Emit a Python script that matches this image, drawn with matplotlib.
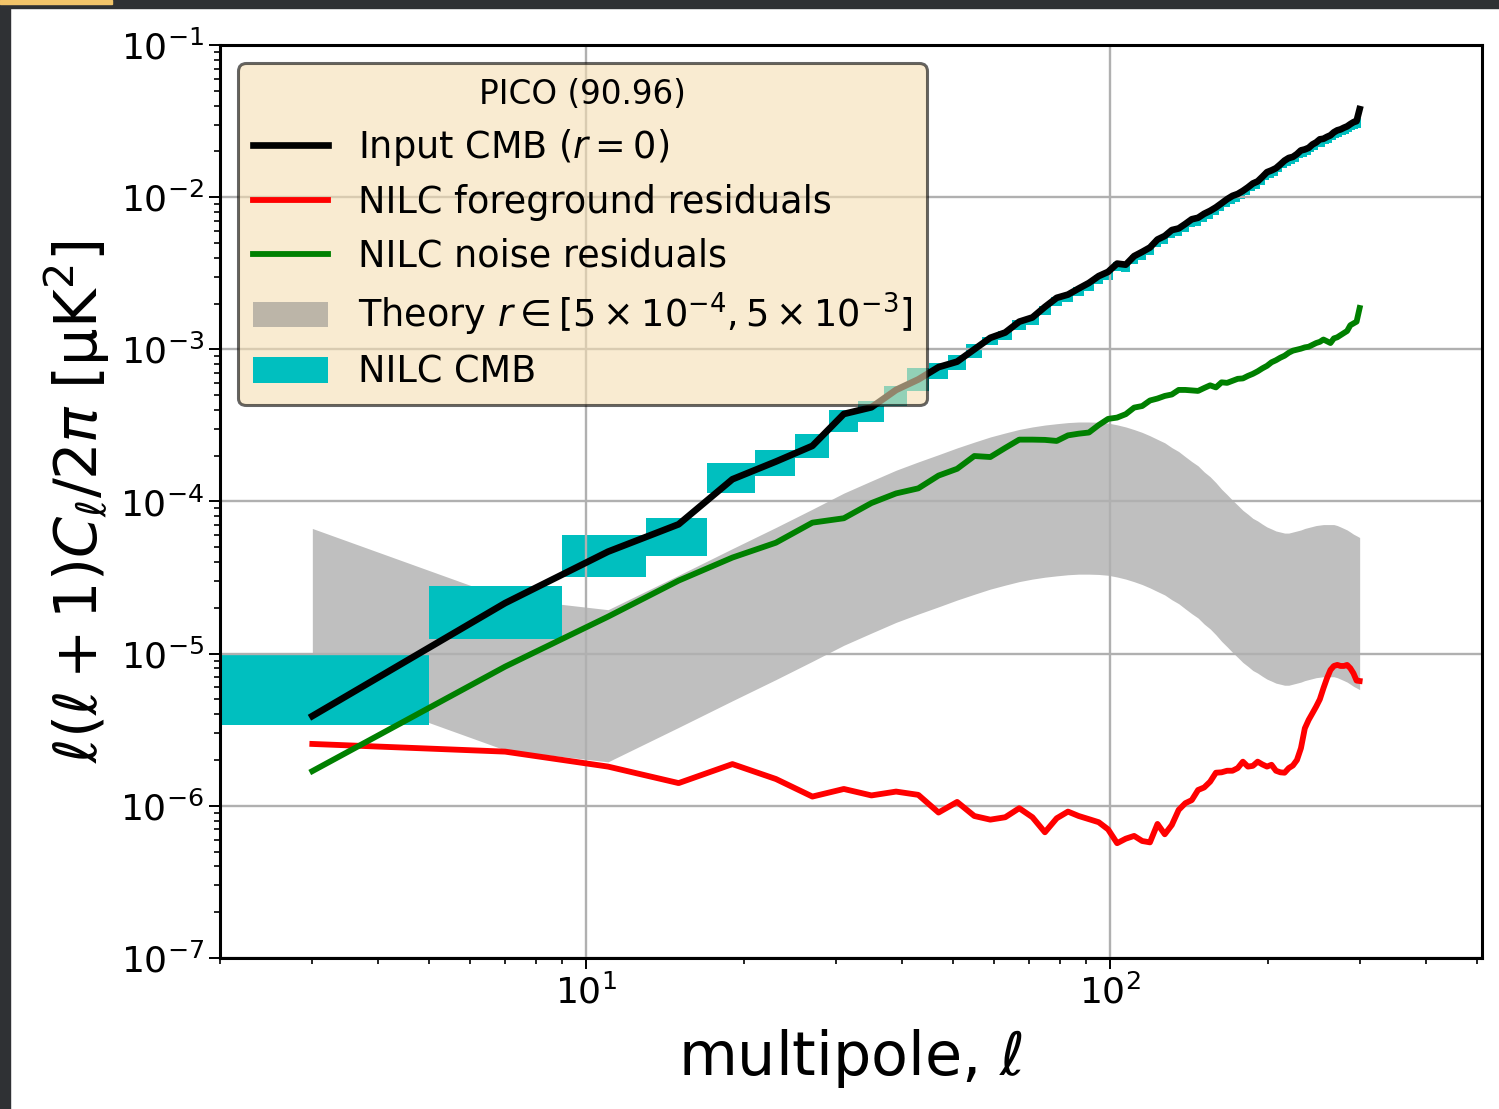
import numpy as np
import matplotlib
matplotlib.use('Agg')
import matplotlib.pyplot as plt
from matplotlib.patches import Rectangle

# Binned multipoles: bins of width 4 starting at ell = 1, plotted at their centres
ell = np.arange(3, 300, 4)
bin_lo = ell - 2
bin_hi = ell + 2

# Input lensed-CMB BB power, r = 0  [uK^2]
input_cmb = [
    3.89e-6, 2.15e-5, 4.68e-5, 7.08e-5, 1.40e-4, 1.83e-4, 2.32e-4, 3.76e-4, 4.16e-4, 5.41e-4,
    6.34e-4, 7.64e-4, 8.30e-4, 1.00e-3, 1.19e-3, 1.29e-3, 1.52e-3, 1.62e-3, 1.90e-3, 2.18e-3,
    2.29e-3, 2.51e-3, 2.73e-3, 3.03e-3, 3.23e-3, 3.66e-3, 3.60e-3, 4.10e-3, 4.37e-3, 4.67e-3,
    5.27e-3, 5.56e-3, 6.08e-3, 6.23e-3, 6.67e-3, 7.16e-3, 7.32e-3, 7.78e-3, 8.13e-3, 8.57e-3,
    9.12e-3, 9.70e-3, 1.02e-2, 1.05e-2, 1.10e-2, 1.16e-2, 1.23e-2, 1.27e-2, 1.36e-2, 1.46e-2,
    1.50e-2, 1.55e-2, 1.64e-2, 1.74e-2, 1.81e-2, 1.84e-2, 1.92e-2, 2.03e-2, 2.06e-2, 2.11e-2,
    2.22e-2, 2.29e-2, 2.40e-2, 2.42e-2, 2.49e-2, 2.55e-2, 2.67e-2, 2.75e-2, 2.79e-2, 2.86e-2,
    2.92e-2, 3.02e-2, 3.11e-2, 3.16e-2, 3.79e-2,
]

# NILC foreground residuals
fg_resid = [
    2.55e-6, 2.27e-6, 1.81e-6, 1.41e-6, 1.88e-6, 1.50e-6, 1.15e-6, 1.29e-6, 1.17e-6, 1.24e-6,
    1.18e-6, 9.03e-7, 1.06e-6, 8.57e-7, 8.11e-7, 8.41e-7, 9.64e-7, 8.41e-7, 6.70e-7, 8.28e-7,
    9.16e-7, 8.57e-7, 8.17e-7, 7.80e-7, 7.00e-7, 5.68e-7, 6.08e-7, 6.34e-7, 5.87e-7, 5.75e-7,
    7.60e-7, 6.50e-7, 7.48e-7, 9.40e-7, 1.04e-6, 1.09e-6, 1.27e-6, 1.32e-6, 1.44e-6, 1.65e-6,
    1.66e-6, 1.70e-6, 1.70e-6, 1.77e-6, 1.95e-6, 1.81e-6, 1.83e-6, 1.95e-6, 1.87e-6, 1.81e-6,
    1.86e-6, 1.70e-6, 1.66e-6, 1.65e-6, 1.77e-6, 1.84e-6, 2.00e-6, 2.39e-6, 3.23e-6, 3.67e-6,
    4.06e-6, 4.49e-6, 5.01e-6, 5.92e-6, 6.89e-6, 7.81e-6, 8.30e-6, 8.43e-6, 8.30e-6, 8.30e-6,
    8.43e-6, 8.02e-6, 7.43e-6, 6.65e-6, 6.61e-6,
]

# NILC noise residuals
noise_resid = [
    1.69e-6, 8.22e-6, 1.75e-5, 3.02e-5, 4.28e-5, 5.36e-5, 7.26e-5, 7.76e-5, 9.77e-5, 1.13e-4,
    1.22e-4, 1.48e-4, 1.64e-4, 1.99e-4, 1.96e-4, 2.25e-4, 2.55e-4, 2.55e-4, 2.54e-4, 2.50e-4,
    2.72e-4, 2.79e-4, 2.84e-4, 3.18e-4, 3.49e-4, 3.56e-4, 3.75e-4, 4.14e-4, 4.24e-4, 4.61e-4,
    4.75e-4, 4.94e-4, 5.05e-4, 5.41e-4, 5.41e-4, 5.37e-4, 5.33e-4, 5.57e-4, 5.80e-4, 5.62e-4,
    6.07e-4, 6.02e-4, 6.21e-4, 6.40e-4, 6.44e-4, 6.69e-4, 6.90e-4, 7.17e-4, 7.50e-4, 7.79e-4,
    8.22e-4, 8.48e-4, 8.81e-4, 9.08e-4, 9.50e-4, 9.80e-4, 9.95e-4, 1.01e-3, 1.03e-3, 1.04e-3,
    1.07e-3, 1.10e-3, 1.12e-3, 1.16e-3, 1.13e-3, 1.10e-3, 1.18e-3, 1.20e-3, 1.24e-3, 1.28e-3,
    1.32e-3, 1.44e-3, 1.48e-3, 1.52e-3, 1.87e-3,
]

# NILC CMB: lower / upper edge of each bin's band
nilc_lo = [
    3.40e-6, 1.25e-5, 3.21e-5, 4.41e-5, 1.14e-4, 1.46e-4, 1.92e-4, 2.88e-4, 3.35e-4, 4.27e-4,
    5.30e-4, 6.34e-4, 7.31e-4, 8.77e-4, 1.06e-3, 1.15e-3, 1.35e-3, 1.44e-3, 1.69e-3, 1.94e-3,
    2.04e-3, 2.23e-3, 2.43e-3, 2.70e-3, 2.87e-3, 3.26e-3, 3.20e-3, 3.65e-3, 3.89e-3, 4.16e-3,
    4.69e-3, 4.95e-3, 5.41e-3, 5.54e-3, 5.94e-3, 6.37e-3, 6.51e-3, 6.92e-3, 7.24e-3, 7.63e-3,
    8.12e-3, 8.63e-3, 9.08e-3, 9.35e-3, 9.79e-3, 1.03e-2, 1.09e-2, 1.13e-2, 1.21e-2, 1.30e-2,
    1.34e-2, 1.38e-2, 1.46e-2, 1.55e-2, 1.61e-2, 1.64e-2, 1.71e-2, 1.81e-2, 1.83e-2, 1.88e-2,
    1.98e-2, 2.04e-2, 2.14e-2, 2.15e-2, 2.22e-2, 2.27e-2, 2.38e-2, 2.45e-2, 2.48e-2, 2.55e-2,
    2.60e-2, 2.69e-2, 2.77e-2, 2.81e-2, 2.85e-2,
]
nilc_hi = [
    9.80e-6, 2.80e-5, 6.03e-5, 7.76e-5, 1.78e-4, 2.18e-4, 2.78e-4, 3.99e-4, 4.57e-4, 5.74e-4,
    7.50e-4, 8.15e-4, 9.23e-4, 1.09e-3, 1.21e-3, 1.32e-3, 1.55e-3, 1.65e-3, 1.94e-3, 2.22e-3,
    2.34e-3, 2.56e-3, 2.78e-3, 3.09e-3, 3.29e-3, 3.73e-3, 3.67e-3, 4.18e-3, 4.46e-3, 4.76e-3,
    5.38e-3, 5.67e-3, 6.20e-3, 6.35e-3, 6.80e-3, 7.30e-3, 7.47e-3, 7.94e-3, 8.29e-3, 8.74e-3,
    9.30e-3, 9.89e-3, 1.04e-2, 1.07e-2, 1.12e-2, 1.18e-2, 1.25e-2, 1.30e-2, 1.39e-2, 1.49e-2,
    1.53e-2, 1.58e-2, 1.67e-2, 1.77e-2, 1.85e-2, 1.88e-2, 1.96e-2, 2.07e-2, 2.10e-2, 2.15e-2,
    2.26e-2, 2.34e-2, 2.45e-2, 2.47e-2, 2.54e-2, 2.60e-2, 2.72e-2, 2.81e-2, 2.85e-2, 2.92e-2,
    2.98e-2, 3.08e-2, 3.17e-2, 3.22e-2, 3.30e-2,
]

# Primordial tensor BB template for r = 1, and the r range shown
bb_tensor_r1 = [
    1.33e-2, 4.65e-3, 3.89e-3, 6.55e-3, 9.80e-3, 1.35e-2, 1.78e-2, 2.27e-2, 2.73e-2, 3.21e-2,
    3.64e-2, 4.06e-2, 4.50e-2, 4.91e-2, 5.31e-2, 5.64e-2, 5.95e-2, 6.18e-2, 6.36e-2, 6.49e-2,
    6.60e-2, 6.66e-2, 6.66e-2, 6.63e-2, 6.55e-2, 6.38e-2, 6.18e-2, 5.94e-2, 5.69e-2, 5.41e-2,
    5.12e-2, 4.86e-2, 4.52e-2, 4.26e-2, 3.94e-2, 3.66e-2, 3.43e-2, 3.13e-2, 2.91e-2, 2.66e-2,
    2.41e-2, 2.22e-2, 2.04e-2, 1.89e-2, 1.75e-2, 1.65e-2, 1.55e-2, 1.49e-2, 1.42e-2, 1.36e-2,
    1.32e-2, 1.28e-2, 1.26e-2, 1.24e-2, 1.24e-2, 1.26e-2, 1.28e-2, 1.30e-2, 1.33e-2, 1.35e-2,
    1.37e-2, 1.39e-2, 1.40e-2, 1.41e-2, 1.41e-2, 1.41e-2, 1.41e-2, 1.39e-2, 1.36e-2, 1.33e-2,
    1.30e-2, 1.26e-2, 1.22e-2, 1.19e-2, 1.16e-2,
]
r_min, r_max = 5e-4, 5e-3

plt.rcParams['font.family'] = 'DejaVu Sans'

fig = plt.figure(figsize=(14.99, 11.09), dpi=100)
ax = fig.add_axes([0.1468, 0.1362, 0.8419, 0.8232])

template = np.array(bb_tensor_r1)
theory = ax.fill_between(ell, r_min * template, r_max * template,
                         color='gray', alpha=0.5, lw=0)

# step-filled band, one box per multipole bin
edges = np.append(bin_lo, bin_hi[-1])
lo_ext = np.append(nilc_lo, nilc_lo[-1])
hi_ext = np.append(nilc_hi, nilc_hi[-1])
nilc = ax.fill_between(edges, lo_ext, hi_ext, step='post', color='c', lw=0)

l_in, = ax.plot(ell, input_cmb, color='k', lw=4.8)
l_fg, = ax.plot(ell, fg_resid, color='r', lw=4.2)
l_ns, = ax.plot(ell, noise_resid, color='g', lw=4.2)

ax.set_xscale('log')
ax.set_yscale('log')
ax.set_xlim(2, 512)
ax.set_ylim(1e-7, 1e-1)

ax.grid(True, which='major', color='#b0b0b0', lw=1.7)
ax.tick_params(which='major', labelsize=26, length=8, width=1.4)
ax.tick_params(which='minor', length=4.5, width=1.2)
for sp in ax.spines.values():
    sp.set_linewidth(2.2)

ax.set_xlabel(r'multipole, $\ell$', fontsize=43.5, labelpad=12)
ax.set_ylabel(r'$\ell(\ell+1)C_\ell/2\pi$ [μK$^2$]', fontsize=42.5, labelpad=6)

leg = ax.legend([l_in, l_fg, l_ns, theory, nilc],
                [r'Input CMB ($r=0$)', 'NILC foreground residuals', 'NILC noise residuals',
                 r'Theory $r\in[5\times10^{-4},5\times10^{-3}]$', 'NILC CMB'],
                loc='upper left', title='PICO (90.96)', fontsize=26.4, title_fontsize=23.5,
                facecolor='wheat', edgecolor='k', framealpha=0.6, handlelength=2.05,
                labelspacing=0.44)
leg.get_frame().set_linewidth(2.2)

# dark window frame around the figure
dark = '#2f3134'
fig.add_artist(Rectangle((0, 0), 10 / 1499, 1, transform=fig.transFigure, color=dark, zorder=10))
fig.add_artist(Rectangle((0, 1 - 8 / 1109), 1, 8 / 1109, transform=fig.transFigure,
                         color=dark, zorder=10))
fig.add_artist(Rectangle((0, 1 - 4 / 1109), 112 / 1499, 4 / 1109, transform=fig.transFigure,
                         color='#f2c46a', zorder=11))

fig.savefig('out.png', dpi=100)
